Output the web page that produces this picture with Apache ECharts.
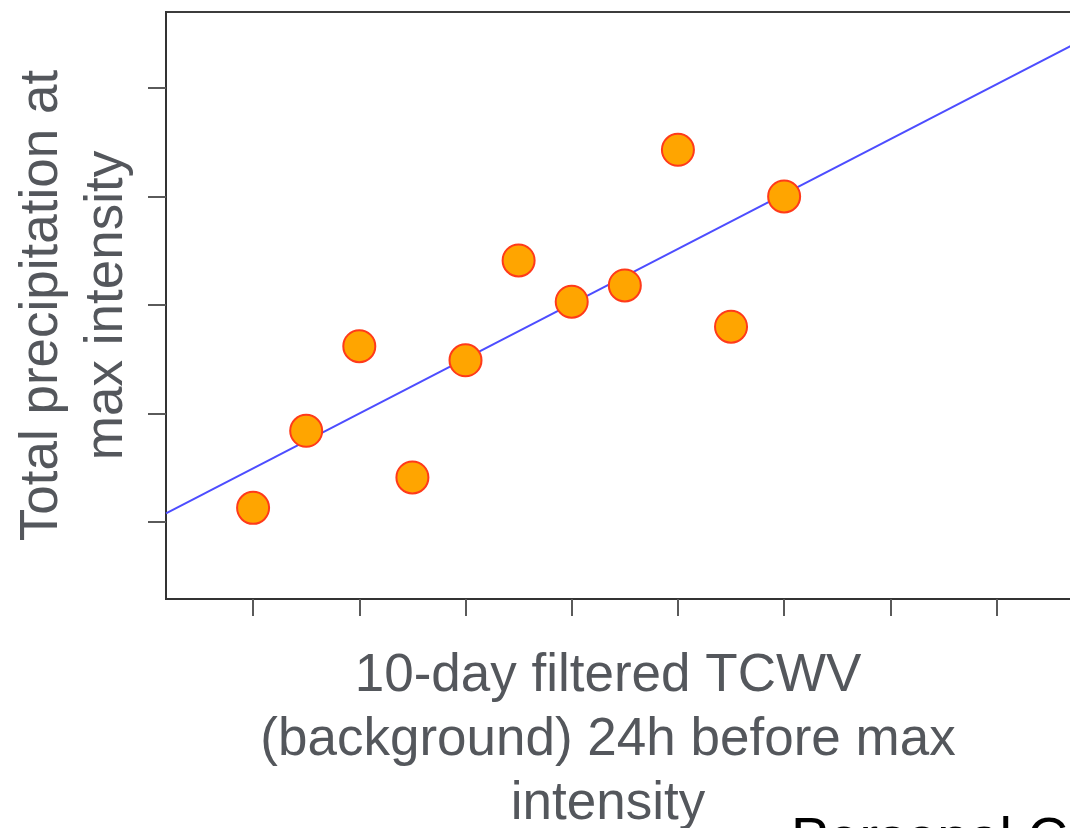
<!DOCTYPE html>
<html>
<head>
<meta charset="utf-8">
<script src="https://cdn.jsdelivr.net/npm/echarts@6/dist/echarts.min.js"></script>
<style>
html,body{margin:0;padding:0;background:#fff;overflow:hidden;}
#chart{width:1070px;height:828px;}
</style>
</head>
<body>
<div id="chart"></div>
<script>
// Data (arbitrary axis units: ticks at integers)
const tcwv = [1, 1.5, 2, 2.5, 3, 3.5, 4, 4.5, 5, 5.5, 6];
const precip = [1.13, 1.84, 2.62, 1.41, 2.49, 3.41, 3.03, 3.18, 4.43, 2.80, 4.00];
const fitX = [0.18, 9.2];
const fitY = [1.08, 5.64];
const xTicks = [1, 2, 3, 4, 5, 6, 7, 8];
const yTicks = [1, 2, 3, 4, 5];
const xTitle = '10-day filtered TCWV\n(background) 24h before max\nintensity';
const yTitle = 'Total precipitation at\nmax intensity';
const footText = 'Personal Communication';

const font = "'Liberation Sans', Arial, sans-serif";
const textGray = '#54575c';

const chart = echarts.init(document.getElementById('chart'), null, {renderer: 'canvas'});
chart.setOption({
  backgroundColor: '#ffffff',
  animation: false,
  grid: {
    left: 166, top: 12, height: 587, width: 958,
    containLabel: false, outerBoundsMode: 'none',
    show: true, borderColor: '#3c3c3c', borderWidth: 2, backgroundColor: 'transparent'
  },
  xAxis: {
    type: 'value', min: fitX[0], max: fitX[1],
    axisLine: {show: true, lineStyle: {color: '#333333', width: 2}},
    axisTick: {show: true, customValues: xTicks, length: 17, inside: false,
               lineStyle: {color: '#5a5a5a', width: 2}},
    axisLabel: {show: false},
    splitLine: {show: false}
  },
  yAxis: {
    type: 'value', min: 0.29, max: 5.70,
    name: yTitle, nameLocation: 'middle', nameGap: 26,
    nameTextStyle: {fontFamily: font, fontSize: 53, lineHeight: 65, color: textGray},
    axisLine: {show: true, lineStyle: {color: '#333333', width: 2}},
    axisTick: {show: true, customValues: yTicks, length: 18, inside: false,
               lineStyle: {color: '#5a5a5a', width: 2}},
    axisLabel: {show: false},
    splitLine: {show: false}
  },
  graphic: [
    {type: 'text', x: 608, y: 644, silent: true,
     style: {text: xTitle, fontFamily: font, fontSize: 53, lineHeight: 64,
             fill: textGray, align: 'center', verticalAlign: 'top'}},
    {type: 'text', x: 791, y: 841, silent: true,
     style: {text: footText, fontFamily: font, fontSize: 56, fill: '#000000',
             align: 'left', verticalAlign: 'middle'}}
  ],
  series: [
    {
      type: 'line', data: fitX.map((x, i) => [x, fitY[i]]),
      showSymbol: false, symbol: 'none', z: 2,
      lineStyle: {color: '#4d4dff', width: 2}
    },
    {
      type: 'scatter', data: tcwv.map((x, i) => [x, precip[i]]),
      symbol: 'circle', symbolSize: 32, z: 3,
      itemStyle: {color: '#ffa500', borderColor: '#ff3a1a', borderWidth: 2, opacity: 1}
    }
  ]
});
</script>
</body>
</html>
